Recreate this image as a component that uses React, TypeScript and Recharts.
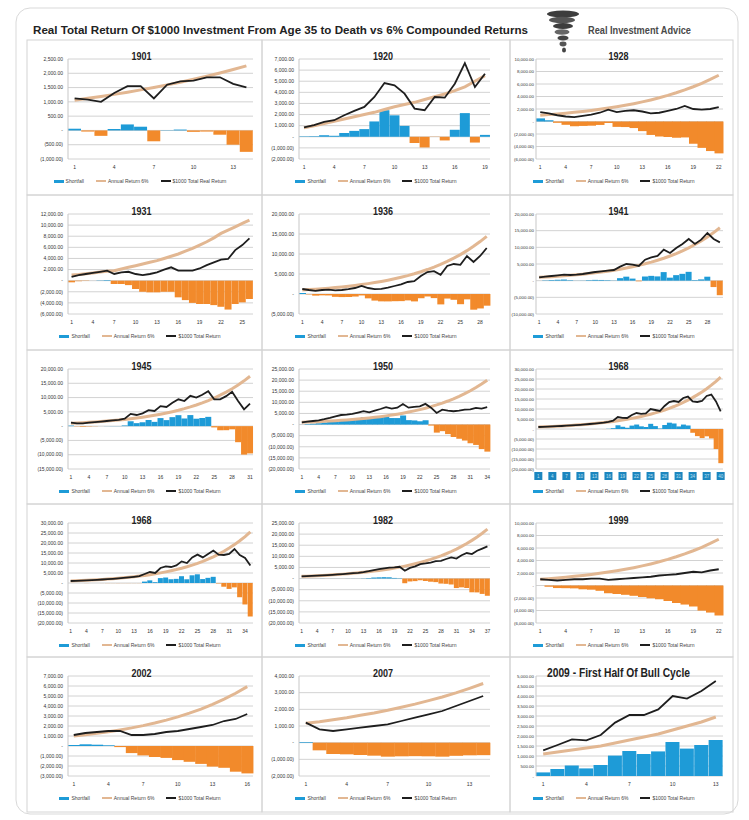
import React from 'react';
import { Bar, CartesianGrid, Cell, ComposedChart, Legend, Line, XAxis, YAxis } from 'recharts';

const BLUE = '#1e9bd7';
const ORANGE = '#f28a2b';
const TAN = '#e2b792';
const INK = '#1e1e1e';
const GRID = '#c7c7c7';
const FONT = '"Liberation Sans", Arial, sans-serif';
const NARROW = '"Liberation Sans Narrow", "Liberation Sans", Arial, sans-serif';

// ---- 1901 ----
const annual1901 = [1060, 1124, 1191, 1262, 1338, 1419, 1504, 1594, 1689, 1791, 1898, 2012, 2133, 2261];
const total1901 = [1120, 1080, 1000, 1310, 1550, 1550, 1120, 1600, 1720, 1740, 1860, 1860, 1630, 1510];
const shortfall1901 = [60, -40, -190, 50, 210, 130, -380, 10, 30, -50, -40, -150, -500, -750];
const ticks1901 = [-1000, -500, 0, 500, 1000, 1500, 2000, 2500];

// ---- 1920 ----
const annual1920 = [800, 1000, 1200, 1400, 1600, 1800, 2000, 2200, 2450, 2700, 2900, 3100, 3350, 3600, 3850, 4150, 4500, 5000, 5500];
const total1920 = [840, 1050, 1340, 1490, 1940, 2330, 2690, 3580, 4840, 4630, 3880, 2540, 2390, 3580, 3520, 4780, 6630, 4480, 5670];
const shortfall1920 = [40, 50, 140, 90, 340, 530, 690, 1380, 2390, 1930, 980, -560, -960, -20, -330, 630, 2130, -520, 170];
const ticks1920 = [-2000, -1000, 0, 1000, 2000, 3000, 4000, 5000, 6000, 7000];

// ---- 1928 ----
const annual1928 = [1000, 1100, 1210, 1331, 1464, 1611, 1772, 1949, 2144, 2358, 2594, 2853, 3138, 3452, 3797, 4177, 4595, 5054, 5560, 6116, 6727, 7400];
const total1928 = [1500, 1300, 1000, 800, 700, 900, 1100, 1400, 1900, 1500, 1700, 1800, 1600, 1300, 1400, 1700, 2000, 2500, 2000, 1900, 2000, 2300];
const shortfall1928 = [500, 200, -210, -530, -760, -710, -670, -550, -240, -860, -890, -1050, -1540, -2150, -2400, -2480, -2600, -2550, -3560, -4220, -4730, -5100];
const ticks1928 = [-6000, -4000, -2000, 0, 2000, 4000, 6000, 8000, 10000];

// ---- 1931 ----
const annual1931 = [1000, 1100, 1250, 1400, 1550, 1700, 1800, 2100, 2400, 2700, 3000, 3300, 3600, 4000, 4400, 4800, 5300, 5800, 6400, 7000, 7700, 8500, 9100, 9700, 10300, 10900];
const total1931 = [700, 1000, 1200, 1400, 1600, 1800, 1200, 1500, 1600, 1200, 1000, 1200, 1500, 2000, 2400, 1800, 1800, 1800, 2200, 2800, 3300, 3800, 3900, 5500, 6400, 7600];
const shortfall1931 = [-300, -100, -50, 0, 50, 100, -600, -600, -800, -1500, -2000, -2100, -2100, -2000, -2000, -3000, -3500, -4000, -4200, -4200, -4400, -4700, -5200, -4200, -3900, -3300];
const ticks1931 = [-6000, -4000, -2000, 0, 2000, 4000, 6000, 8000, 10000, 12000];

// ---- 1936 ----
const annual1936 = [1000, 1100, 1210, 1331, 1464, 1611, 1772, 1949, 2144, 2358, 2594, 2853, 3138, 3452, 3797, 4177, 4595, 5054, 5560, 6116, 6727, 7400, 8140, 8954, 9850, 10835, 11918, 13110, 14421];
const total1936 = [1250, 1000, 800, 1000, 1100, 900, 1000, 1200, 1500, 2000, 1500, 1200, 1300, 1600, 2000, 2400, 3000, 3200, 4500, 5500, 5700, 4800, 7000, 7500, 7300, 9500, 8000, 9500, 11500];
const shortfall1936 = [250, -100, -410, -330, -360, -710, -770, -750, -640, -360, -1090, -1650, -1840, -1850, -1800, -1780, -1600, -1850, -1060, -620, -1030, -2600, -1140, -1450, -2550, -1340, -3920, -3610, -2920];
const ticks1936 = [-5000, 0, 5000, 10000, 15000, 20000];

// ---- 1941 ----
const annual1941 = [1000, 1100, 1210, 1331, 1464, 1611, 1772, 1949, 2144, 2358, 2594, 2853, 3138, 3452, 3797, 4177, 4595, 5054, 5560, 6116, 6727, 7400, 8140, 8954, 9850, 10835, 11918, 13110, 14421, 15863];
const total1941 = [1000, 1200, 1400, 1600, 1800, 1700, 1800, 2000, 2300, 2600, 2800, 3000, 3200, 4200, 5000, 4800, 4400, 6300, 7000, 7400, 9300, 8300, 9800, 11000, 12500, 11000, 12300, 14300, 12500, 11500];
const shortfall1941 = [0, 100, 190, 270, 340, 90, 30, 50, 160, 240, 210, 150, 60, 750, 1200, 620, -200, 1250, 1440, 1280, 2570, 900, 1660, 2050, 2650, 170, 380, 1190, -1920, -4360];
const ticks1941 = [-10000, -5000, 0, 5000, 10000, 15000, 20000];

// ---- 1945 ----
const annual1945 = [1000, 1100, 1210, 1331, 1464, 1611, 1772, 1949, 2144, 2358, 2594, 2853, 3138, 3452, 3797, 4177, 4595, 5054, 5560, 6116, 6727, 7400, 8140, 8954, 9850, 10835, 11918, 13110, 14421, 15863, 17449];
const total1945 = [1200, 1000, 1000, 1200, 1400, 1600, 1800, 2000, 2200, 2600, 4300, 3900, 4500, 5600, 5300, 7000, 6700, 8200, 9400, 8800, 10600, 10000, 11000, 12200, 9400, 9400, 10500, 12000, 8800, 5900, 7900];
const shortfall1945 = [200, -100, -210, -130, -60, -10, 30, 50, 60, 240, 1710, 1050, 1360, 2150, 1500, 2820, 2110, 3150, 3840, 2680, 3870, 2600, 2860, 3250, -450, -1440, -1420, -1110, -5620, -9960, -9550];
const ticks1945 = [-15000, -10000, -5000, 0, 5000, 10000, 15000, 20000];

// ---- 1950 ----
const annual1950 = [1000, 1095, 1199, 1313, 1438, 1574, 1724, 1888, 2067, 2263, 2478, 2714, 2971, 3254, 3563, 3901, 4272, 4678, 5122, 5609, 6142, 6725, 7364, 8064, 8830, 9668, 10587, 11593, 12694, 13900, 15220, 16666, 18249, 19983];
const total1950 = [1000, 1300, 1600, 1900, 2400, 3000, 3700, 4300, 4500, 4800, 5400, 6000, 5500, 6300, 7000, 7800, 7200, 7600, 9200, 7600, 8000, 8200, 9300, 7600, 5200, 6700, 6300, 6000, 6300, 6700, 6800, 7500, 7200, 7800];
const shortfall1950 = [0, 210, 400, 590, 960, 1430, 1980, 2410, 2430, 2540, 2920, 3290, 2530, 3050, 3440, 3900, 2930, 2920, 4080, 1990, 1860, 1480, 1940, -460, -3630, -2970, -4290, -5590, -6390, -7200, -8420, -9170, -11050, -12180];
const ticks1950 = [-20000, -15000, -10000, -5000, 0, 5000, 10000, 15000, 20000, 25000];

// ---- 1968 (first) ----
const annual1968a = [1000, 1087, 1182, 1284, 1396, 1518, 1650, 1793, 1949, 2119, 2303, 2504, 2722, 2958, 3216, 3495, 3800, 4130, 4490, 4880, 5305, 5767, 6269, 6814, 7407, 8051, 8752, 9513, 10341, 11241, 12219, 13282, 14437, 15693, 17058, 18542, 20156, 21909, 23815, 25887];
const total1968a = [1000, 1100, 1200, 1300, 1400, 1500, 1650, 1800, 1950, 2100, 2300, 2500, 2700, 2950, 3200, 3600, 4200, 6000, 5600, 5500, 7000, 8000, 7600, 7800, 10000, 9500, 9000, 11500, 13500, 14000, 13500, 15500, 16200, 13800, 13500, 14000, 16500, 17200, 13800, 8800];
const shortfall1968a = [0, 10, 20, 20, 0, -20, 0, 10, 0, -20, 0, 0, -20, -10, -20, 100, 400, 1870, 1110, 620, 1700, 2230, 1330, 990, 2590, 1450, 250, 1990, 3160, 2760, 1280, 2220, 1760, -1890, -3560, -4540, -3660, -4710, -10020, -17090];
const ticks1968a = [-20000, -15000, -10000, -5000, 0, 5000, 10000, 15000, 20000, 25000, 30000];

// ---- 1968 (second) ----
const annual1968b = [1000, 1100, 1210, 1331, 1464, 1611, 1772, 1949, 2144, 2358, 2594, 2853, 3138, 3452, 3797, 4177, 4595, 5054, 5560, 6116, 6727, 7400, 8140, 8954, 9850, 10835, 11918, 13110, 14421, 15863, 17449, 19194, 21114, 23225, 25548];
const total1968b = [1000, 1100, 1200, 1300, 1450, 1600, 1750, 1900, 2100, 2300, 2550, 2800, 3100, 3400, 4500, 5500, 5000, 7500, 8300, 8000, 8800, 10800, 10000, 12800, 14200, 12800, 14500, 16200, 14200, 14000, 14500, 17000, 14000, 12500, 8800];
const shortfall1968b = [0, 0, -10, -30, -10, -10, -20, -50, -40, -60, -40, -50, -40, -50, 700, 1320, 400, 2450, 2740, 1880, 2070, 3400, 1860, 3850, 4350, 1970, 2580, 3090, -220, -1860, -2950, -2190, -7110, -10730, -16750];
const ticks1968b = [-20000, -15000, -10000, -5000, 0, 5000, 10000, 15000, 20000, 25000, 30000];

// ---- 1982 ----
const annual1982 = [1000, 1090, 1188, 1295, 1412, 1539, 1677, 1828, 1993, 2172, 2367, 2580, 2813, 3066, 3342, 3642, 3970, 4328, 4717, 5142, 5604, 6109, 6659, 7258, 7911, 8623, 9399, 10245, 11167, 12172, 13268, 14462, 15763, 17182, 18728, 20414, 22251];
const total1982 = [1000, 1100, 1200, 1300, 1450, 1550, 1700, 1850, 2000, 2200, 2400, 2600, 2900, 3300, 3800, 4200, 4600, 4900, 5000, 5300, 3500, 4800, 5500, 6500, 6800, 7200, 7800, 8000, 8800, 9500, 9000, 10500, 11500, 11000, 12500, 13500, 14500];
const shortfall1982 = [0, 10, 10, 10, 40, 10, 20, 20, 10, 30, 30, 20, 90, 230, 460, 560, 630, 570, 280, 160, -2100, -1310, -1160, -760, -1110, -1420, -1600, -2250, -2370, -2670, -4270, -3960, -4260, -6180, -6230, -6910, -7750];
const ticks1982 = [-20000, -15000, -10000, -5000, 0, 5000, 10000, 15000, 20000, 25000];

// ---- 1999 ----
const annual1999 = [1000, 1100, 1210, 1331, 1464, 1611, 1772, 1949, 2144, 2358, 2594, 2853, 3138, 3452, 3797, 4177, 4595, 5054, 5560, 6116, 6727, 7400];
const total1999 = [1000, 900, 800, 900, 1000, 1000, 1100, 1100, 900, 1000, 1100, 1200, 1300, 1400, 1600, 1700, 1800, 2000, 2200, 2100, 2400, 2600];
const shortfall1999 = [0, -200, -410, -430, -460, -610, -670, -850, -1240, -1360, -1490, -1650, -1840, -2050, -2200, -2480, -2800, -3050, -3360, -4020, -4330, -4800];
const ticks1999 = [-6000, -4000, -2000, 0, 2000, 4000, 6000, 8000, 10000];

// ---- 2002 ----
const annual2002 = [1000, 1130, 1270, 1430, 1610, 1810, 2040, 2300, 2590, 2910, 3280, 3690, 4160, 4680, 5270, 5940];
const total2002 = [1100, 1300, 1400, 1500, 1500, 1100, 1100, 1200, 1400, 1500, 1700, 1900, 2100, 2500, 2700, 3200];
const shortfall2002 = [100, 170, 130, 70, -110, -710, -940, -1100, -1190, -1410, -1580, -1790, -2060, -2180, -2570, -2740];
const ticks2002 = [-3000, -2000, -1000, 0, 1000, 2000, 3000, 4000, 5000, 6000, 7000];

// ---- 2007 ----
const annual2007 = [1160, 1260, 1380, 1500, 1640, 1780, 1940, 2120, 2310, 2520, 2740, 2990, 3260, 3550];
const total2007 = [1200, 800, 700, 800, 900, 1000, 1100, 1300, 1500, 1700, 1900, 2200, 2500, 2800];
const shortfall2007 = [40, -460, -680, -700, -740, -780, -840, -820, -810, -820, -840, -790, -760, -750];
const ticks2007 = [-2000, -1000, 0, 1000, 2000, 3000, 4000];

// ---- 2009 ----
const annual2009 = [1100, 1200, 1300, 1400, 1500, 1650, 1800, 1950, 2100, 2300, 2500, 2700, 2950];
const total2009 = [1280, 1550, 1830, 1780, 2050, 2670, 3050, 3050, 3330, 4000, 3870, 4250, 4750];
const shortfall2009 = [180, 350, 530, 380, 550, 1020, 1250, 1100, 1230, 1700, 1370, 1550, 1800];
const ticks2009 = [0, 500, 1000, 1500, 2000, 2500, 3000, 3500, 4000, 4500, 5000];

type PanelDef = {
  title: string;
  annual: number[];
  total: number[];
  shortfall: number[];
  ticks: number[];
  totalLabel?: string;
  boxedTicks?: boolean;
  titleW?: number;
  titleSize?: number;
};

const panels: PanelDef[] = [
  { title: '1901', annual: annual1901, total: total1901, shortfall: shortfall1901, ticks: ticks1901, totalLabel: '$1000 Total Real Return' },
  { title: '1920', annual: annual1920, total: total1920, shortfall: shortfall1920, ticks: ticks1920 },
  { title: '1928', annual: annual1928, total: total1928, shortfall: shortfall1928, ticks: ticks1928 },
  { title: '1931', annual: annual1931, total: total1931, shortfall: shortfall1931, ticks: ticks1931 },
  { title: '1936', annual: annual1936, total: total1936, shortfall: shortfall1936, ticks: ticks1936 },
  { title: '1941', annual: annual1941, total: total1941, shortfall: shortfall1941, ticks: ticks1941 },
  { title: '1945', annual: annual1945, total: total1945, shortfall: shortfall1945, ticks: ticks1945 },
  { title: '1950', annual: annual1950, total: total1950, shortfall: shortfall1950, ticks: ticks1950 },
  { title: '1968', annual: annual1968a, total: total1968a, shortfall: shortfall1968a, ticks: ticks1968a, boxedTicks: true },
  { title: '1968', annual: annual1968b, total: total1968b, shortfall: shortfall1968b, ticks: ticks1968b },
  { title: '1982', annual: annual1982, total: total1982, shortfall: shortfall1982, ticks: ticks1982 },
  { title: '1999', annual: annual1999, total: total1999, shortfall: shortfall1999, ticks: ticks1999 },
  { title: '2002', annual: annual2002, total: total2002, shortfall: shortfall2002, ticks: ticks2002 },
  { title: '2007', annual: annual2007, total: total2007, shortfall: shortfall2007, ticks: ticks2007 },
  { title: '2009 - First Half Of Bull Cycle', annual: annual2009, total: total2009, shortfall: shortfall2009, ticks: ticks2009, titleW: 143, titleSize: 12.5 },
];

// layout of the 3 x 5 grid
const COL_X = [27, 262, 510];
const COL_W = [235, 248, 223];
// chart boxes (the third column's chart starts a little left of its frame so its labels fit)
const CHART_X = [27, 262, 505];
const CHART_W = [235, 248, 228];
const Y_AXIS_W = [41, 37, 31];
const RIGHT_PAD = [9, 20, 10];
const ROW_Y = [40, 195, 350, 504, 657];
const GRID_BOTTOM = 812;
const CHART_H = 137;

const fmtAcct = (v: number) => {
  if (v === 0) return '-';
  const s = Math.abs(v).toLocaleString('en-US', { minimumFractionDigits: 2, maximumFractionDigits: 2 });
  return v < 0 ? `(${s})` : s;
};

function LegendRow({ label }: { label: string }) {
  const item = (color: string, h: number, text: string) => (
    <span style={{ display: 'inline-flex', alignItems: 'center', margin: '0 6px' }}>
      <span style={{ display: 'inline-block', width: 10, height: h, background: color, marginRight: 2 }} />
      {text}
    </span>
  );
  return (
    <div
      style={{
        height: 20,
        display: 'flex',
        justifyContent: 'center',
        alignItems: 'center',
        fontSize: 5,
        color: '#444',
        fontFamily: FONT,
        whiteSpace: 'nowrap',
      }}
    >
      {item(BLUE, 3, 'Shortfall')}
      {item(TAN, 2, 'Annual Return 6%')}
      {item(INK, 2.5, label)}
    </div>
  );
}

function BoxTick(props: any) {
  const { x, y, payload } = props;
  return (
    <g transform={`translate(${x},${y})`}>
      <rect x={-4} y={-3} width={8} height={8} fill="#1c86bf" />
      <text x={0} y={3} textAnchor="middle" fontSize={4.5} fill="#bfe0f2" fontFamily={FONT}>
        {payload.value}
      </text>
    </g>
  );
}

function SmallChart({ p, index }: { p: PanelDef; index: number }) {
  const row = Math.floor(index / 3);
  const col = index % 3;
  const data = p.total.map((t, k) => ({
    year: String(k + 1),
    total: t,
    annual: p.annual[k],
    shortfall: p.shortfall[k],
  }));
  const tickStyle = { fontSize: col === 2 ? 4.4 : 5, fill: '#333', fontFamily: FONT };
  return (
    <div style={{ position: 'absolute', left: CHART_X[col], top: ROW_Y[row] + 16 }}>
      <ComposedChart
        width={CHART_W[col]}
        height={CHART_H}
        data={data}
        margin={{ top: 3, right: RIGHT_PAD[col], bottom: 2, left: 0 }}
        barCategoryGap={0}
        barGap={0}
      >
        <CartesianGrid vertical={false} stroke={GRID} strokeWidth={0.8} />
        <XAxis
          dataKey="year"
          interval={2}
          tickLine={false}
          axisLine={false}
          height={12}
          tickSize={3}
          tickMargin={3}
          tick={p.boxedTicks ? <BoxTick /> : { fontSize: 5, fill: '#333', fontFamily: FONT }}
        />
        <YAxis
          type="number"
          domain={[p.ticks[0], p.ticks[p.ticks.length - 1]]}
          ticks={p.ticks}
          interval={0}
          width={Y_AXIS_W[col]}
          tickLine={false}
          tickSize={col === 2 ? 1 : 3}
          tickMargin={col === 2 ? 1 : 2}
          axisLine={{ stroke: GRID }}
          tickFormatter={fmtAcct}
          tick={tickStyle}
        />
        <Legend verticalAlign="bottom" height={20} content={() => <LegendRow label={p.totalLabel ?? '$1000 Total Return'} />} />
        <Bar dataKey="shortfall" isAnimationActive={false}>
          {data.map((d, k) => (
            <Cell key={k} fill={d.shortfall < 0 ? ORANGE : BLUE} />
          ))}
        </Bar>
        <Line dataKey="annual" type="linear" stroke={TAN} strokeWidth={3} dot={false} isAnimationActive={false} />
        <Line dataKey="total" type="linear" stroke={INK} strokeWidth={1.8} dot={false} isAnimationActive={false} />
      </ComposedChart>
    </div>
  );
}

export default function App() {
  return (
    <div style={{ position: 'absolute', left: 0, top: 0, width: 749, height: 820, background: '#fff', overflow: 'hidden' }}>
      <svg width={749} height={820} style={{ position: 'absolute', left: 0, top: 0 }}>
        <rect x={16} y={8} width={722} height={806} rx={14} fill="#fff" stroke="#d9d9d9" />
        {ROW_Y.map((y, r) =>
          COL_X.map((x, c) => (
            <rect
              key={`${r}-${c}`}
              x={x}
              y={y}
              width={COL_W[c]}
              height={(ROW_Y[r + 1] ?? GRID_BOTTOM) - y}
              fill="none"
              stroke="#d4d4d4"
            />
          )),
        )}
      </svg>

      {panels.map((p, i) => (
        <SmallChart key={i} p={p} index={i} />
      ))}

      <svg width={749} height={820} style={{ position: 'absolute', left: 0, top: 0, pointerEvents: 'none' }}>
        <text
          x={33}
          y={34}
          fontSize={10.5}
          fontWeight="bold"
          fill="#222"
          fontFamily={NARROW}
          textLength={495}
          lengthAdjust="spacingAndGlyphs"
        >
          Real Total Return Of $1000 Investment From Age 35 to Death vs 6% Compounded Returns
        </text>
        <g>
          <ellipse cx={563} cy={14} rx={16} ry={3.5} fill="#3d3d3d" />
          <ellipse cx={562} cy={20} rx={13} ry={3.2} fill="#555" />
          <ellipse cx={563} cy={26} rx={10} ry={3} fill="#3d3d3d" />
          <ellipse cx={562} cy={32} rx={7.5} ry={2.8} fill="#666" />
          <ellipse cx={563} cy={38} rx={5.5} ry={2.6} fill="#444" />
          <ellipse cx={563} cy={44} rx={3.5} ry={2.4} fill="#555" />
          <ellipse cx={564} cy={50} rx={2} ry={2.5} fill="#444" />
        </g>
        <text
          x={588}
          y={34}
          fontSize={10}
          fontWeight="bold"
          fill="#4a4a4a"
          fontFamily={NARROW}
          textLength={103}
          lengthAdjust="spacingAndGlyphs"
        >
          Real Investment Advice
        </text>
        {panels.map((p, i) => {
          const row = Math.floor(i / 3);
          const col = i % 3;
          const w = p.titleW ?? 20;
          return (
            <text
              key={i}
              x={COL_X[col] + COL_W[col] / 2 - 3}
              y={ROW_Y[row] + 19.5}
              textAnchor="middle"
              fontSize={p.titleSize ?? 11}
              fontWeight="bold"
              fill="#222"
              fontFamily={NARROW}
              textLength={w}
              lengthAdjust="spacingAndGlyphs"
            >
              {p.title}
            </text>
          );
        })}
      </svg>
    </div>
  );
}
